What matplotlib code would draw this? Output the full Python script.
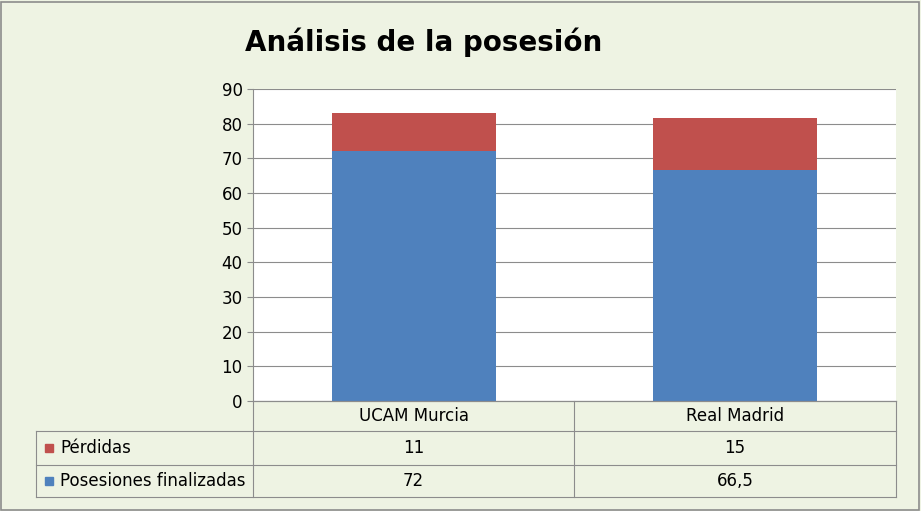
import matplotlib
matplotlib.use('Agg')
import matplotlib.pyplot as plt
from matplotlib.lines import Line2D
from matplotlib.patches import Rectangle

categories = ['UCAM Murcia', 'Real Madrid']
posesiones = [72, 66.5]
perdidas = [11, 15]
posesiones_txt = ['72', '66,5']
perdidas_txt = ['11', '15']

BLUE = '#4F81BD'
RED = '#C0504D'
BG = '#EEF3E3'
W, H = 921, 511

fig = plt.figure(figsize=(W / 100, H / 100), dpi=100, facecolor=BG)
fig.patches.append(Rectangle((1 / W, 1 / H), 1 - 3 / W, 1 - 3 / H, transform=fig.transFigure,
                             fill=False, edgecolor='#8c8c8c', lw=1.2))


def fx(x):
    return x / W


def fy(y):
    return 1 - y / H


L, R, T, B = 253, 896, 89, 401
ax = fig.add_axes([fx(L), fy(B), fx(R) - fx(L), fy(T) - fy(B)])
ax.set_facecolor('white')
x = range(len(categories))
ax.bar(x, posesiones, width=0.51, color=BLUE)
ax.bar(x, perdidas, width=0.51, bottom=posesiones, color=RED)
ax.set_xlim(-0.5, 1.5)
ax.set_ylim(0, 90)
ax.set_yticks(range(0, 91, 10))
ax.yaxis.grid(True, color='#8c8c8c', lw=0.8)
ax.set_axisbelow(True)
ax.set_xticks([])
ax.tick_params(axis='y', labelsize=12, length=4, color='#8c8c8c')
for s in ['top', 'right']:
    ax.spines[s].set_visible(False)
for s in ['left', 'bottom']:
    ax.spines[s].set_color('#8c8c8c')

fig.text(0.5 - 0.04, fy(42), 'Análisis de la posesión', ha='center', va='center',
         fontsize=20, fontweight='bold', family='DejaVu Sans')

# data table
rows = [401, 431, 465, 497]
mid = 574
lc = '#8c8c8c'


def hline(y, x0, x1):
    fig.add_artist(Line2D([fx(x0), fx(x1)], [fy(y), fy(y)], color=lc, lw=0.8))


def vline(x0, y0, y1):
    fig.add_artist(Line2D([fx(x0), fx(x0)], [fy(y0), fy(y1)], color=lc, lw=0.8))


hline(rows[0], L, R)
for y in rows[1:]:
    hline(y, 36, R)
vline(36, rows[1], rows[3])
vline(L, rows[0], rows[3])
vline(mid, rows[0], rows[3])
vline(R, rows[0], rows[3])

cols = [(L + mid) / 2, (mid + R) / 2]
fs = 12
for cx, cat in zip(cols, categories):
    fig.text(fx(cx), fy((rows[0] + rows[1]) / 2), cat, ha='center', va='center', fontsize=fs)
for i, (label, vals, col) in enumerate([('Pérdidas', perdidas_txt, RED),
                                        ('Posesiones finalizadas', posesiones_txt, BLUE)]):
    yc = (rows[i + 1] + rows[i + 2]) / 2
    fig.patches.append(Rectangle((fx(45), fy(yc + 4)), 8 / W, 8 / H, transform=fig.transFigure,
                                 color=col))
    fig.text(fx(60), fy(yc), label, ha='left', va='center', fontsize=fs)
    for cx, v in zip(cols, vals):
        fig.text(fx(cx), fy(yc), v, ha='center', va='center', fontsize=fs)

fig.savefig('out.png', dpi=100, facecolor=BG)
